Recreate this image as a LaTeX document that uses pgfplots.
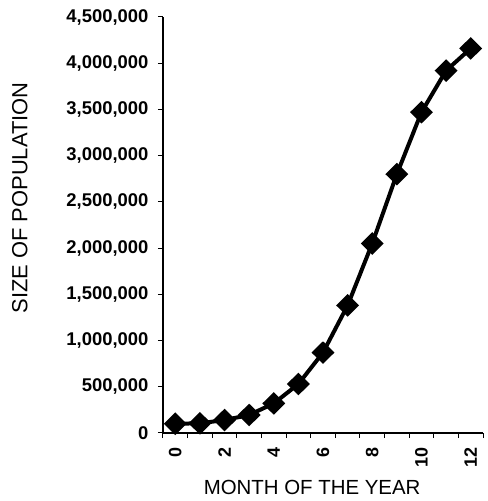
\documentclass[border=0pt]{standalone}
\usepackage{fontspec}
\setmainfont{Liberation Sans}
\usepackage{pgfplots}
\pgfplotsset{compat=1.18}
\begin{document}
\begin{tikzpicture}
\begin{axis}[
  name=ax,
  scale only axis,
  width=320bp, height=416bp,
  xmin=-0.5, xmax=12.5,
  ymin=0, ymax=4500000,
  axis lines=left,
  axis line style={-, line width=1.2bp},
  xtick={0,2,...,12},
  minor xtick={-0.5,0.5,...,12.5},
  major x tick style={draw=none},
  minor tick length=5bp,
  major tick length=5bp,
  tick align=outside,
  tick style={black, line width=1bp},
  ytick={0,500000,...,4500000},
  scaled y ticks=false,
  /pgf/number format/assume math mode=true,
  yticklabel={\pgfmathprintnumber[fixed,precision=0,1000 sep={,}]{\tick}},
  yticklabel style={font=\bfseries\fontsize{18.5}{18.5}\selectfont, xshift=-6bp},
  xticklabel style={font=\bfseries\fontsize{18}{18}\selectfont, yshift=-6bp, rotate=90, anchor=east},
  xlabel={MONTH OF THE YEAR},
  ylabel={SIZE OF POPULATION},
  xlabel style={font=\fontsize{20.5}{20.5}\selectfont, at={(axis description cs:0.466,-0.132)}, anchor=center},
  ylabel style={font=\fontsize{22}{22}\selectfont, at={(axis description cs:-0.447,0.565)}, anchor=center, rotate=0},
  clip=false,
]
\addplot[black, line width=4bp, mark=diamond*, mark size=8.5bp, mark options={xscale=1.35, solid, fill=black}] coordinates {
(0,100000) (1,105000) (2,140000) (3,195000) (4,320000) (5,530000) (6,870000)
(7,1380000) (8,2050000) (9,2800000) (10,3470000) (11,3920000) (12,4160000)
};
\end{axis}
\path (ax.south west) ++(-163bp,-68bp) rectangle ++(488bp,501bp);
\end{tikzpicture}
\end{document}
